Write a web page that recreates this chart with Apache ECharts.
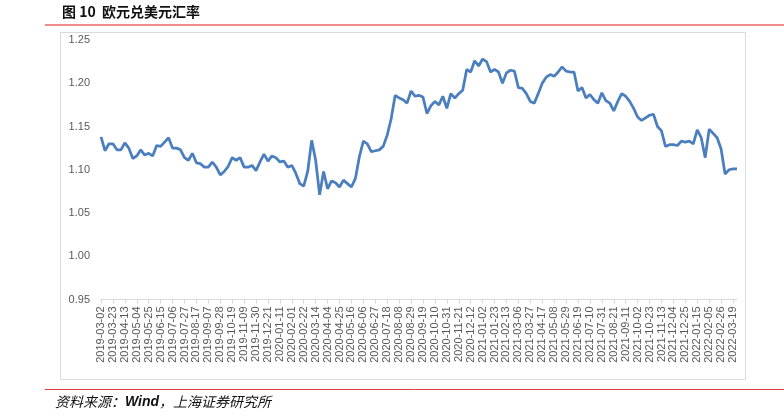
<!DOCTYPE html>
<html>
<head>
<meta charset="utf-8">
<script src="https://cdn.jsdelivr.net/npm/echarts@6/dist/echarts.min.js"></script>
<style>
html,body{margin:0;padding:0;background:#fff;}
#chart{width:784px;height:417px;}
</style>
</head>
<body>
<div id="chart"></div>
<script>
var titleText = '图 10  欧元兑美元汇率';
var sourceCn1 = '资料来源：';
var sourceWind = 'Wind';
var sourceCn2 = '，上海证券研究所';

var yTicks = [0.95, 1.00, 1.05, 1.10, 1.15, 1.20, 1.25];

var dates = [
'2019-03-02','2019-03-09','2019-03-16','2019-03-23','2019-03-30','2019-04-06','2019-04-13','2019-04-20','2019-04-27','2019-05-04',
'2019-05-11','2019-05-18','2019-05-25','2019-06-01','2019-06-08','2019-06-15','2019-06-22','2019-06-29','2019-07-06','2019-07-13',
'2019-07-20','2019-07-27','2019-08-03','2019-08-10','2019-08-17','2019-08-24','2019-08-31','2019-09-07','2019-09-14','2019-09-21',
'2019-09-28','2019-10-05','2019-10-12','2019-10-19','2019-10-26','2019-11-02','2019-11-09','2019-11-16','2019-11-23','2019-11-30',
'2019-12-07','2019-12-14','2019-12-21','2019-12-28',
'2020-01-04','2020-01-11','2020-01-18','2020-01-25','2020-02-01','2020-02-08','2020-02-15','2020-02-22','2020-02-29','2020-03-07',
'2020-03-14','2020-03-21','2020-03-28','2020-04-04','2020-04-11','2020-04-18','2020-04-25','2020-05-02','2020-05-09','2020-05-16',
'2020-05-23','2020-05-30','2020-06-06','2020-06-13','2020-06-20','2020-06-27','2020-07-04','2020-07-11','2020-07-18','2020-07-25',
'2020-08-01','2020-08-08','2020-08-15','2020-08-22','2020-08-29','2020-09-05','2020-09-12','2020-09-19','2020-09-26','2020-10-03',
'2020-10-10','2020-10-17','2020-10-24','2020-10-31','2020-11-07','2020-11-14','2020-11-21','2020-11-28','2020-12-05','2020-12-12',
'2020-12-19','2020-12-26',
'2021-01-02','2021-01-09','2021-01-16','2021-01-23','2021-01-30','2021-02-06','2021-02-13','2021-02-20','2021-02-27','2021-03-06',
'2021-03-13','2021-03-20','2021-03-27','2021-04-03','2021-04-10','2021-04-17','2021-04-24','2021-05-01','2021-05-08','2021-05-15',
'2021-05-22','2021-05-29','2021-06-05','2021-06-12','2021-06-19','2021-06-26','2021-07-03','2021-07-10','2021-07-17','2021-07-24',
'2021-07-31','2021-08-07','2021-08-14','2021-08-21','2021-08-28','2021-09-04','2021-09-11','2021-09-18','2021-09-25','2021-10-02',
'2021-10-09','2021-10-16','2021-10-23','2021-10-30','2021-11-06','2021-11-13','2021-11-20','2021-11-27','2021-12-04','2021-12-11',
'2021-12-18','2021-12-25',
'2022-01-01','2022-01-08','2022-01-15','2022-01-22','2022-01-29','2022-02-05','2022-02-12','2022-02-19','2022-02-26','2022-03-05',
'2022-03-12','2022-03-19','2022-03-26'
];

var eurusd = [
1.138,1.122,1.130,1.130,1.123,1.123,1.131,1.125,1.113,1.116,
1.123,1.117,1.119,1.116,1.128,1.127,1.132,1.137,1.125,1.125,
1.123,1.114,1.111,1.119,1.108,1.107,1.103,1.103,1.109,1.103,
1.094,1.098,1.104,1.114,1.111,1.114,1.103,1.103,1.105,1.099,
1.109,1.118,1.110,1.116,1.114,1.109,1.110,1.103,1.105,1.096,
1.084,1.081,1.098,1.134,1.111,1.071,1.098,1.078,1.087,1.085,
1.080,1.088,1.084,1.080,1.090,1.115,1.133,1.130,1.121,1.122,
1.123,1.127,1.140,1.159,1.186,1.183,1.181,1.177,1.191,1.185,
1.186,1.184,1.165,1.174,1.179,1.175,1.185,1.171,1.188,1.183,
1.188,1.192,1.216,1.213,1.226,1.220,1.228,1.225,1.213,1.216,
1.213,1.200,1.212,1.215,1.214,1.195,1.194,1.188,1.179,1.177,
1.188,1.200,1.207,1.210,1.208,1.213,1.219,1.214,1.213,1.213,
1.191,1.195,1.183,1.187,1.181,1.177,1.189,1.180,1.177,1.168,
1.179,1.188,1.185,1.179,1.171,1.161,1.157,1.160,1.163,1.164,
1.150,1.145,1.127,1.129,1.129,1.128,1.133,1.132,1.133,1.130,
1.146,1.137,1.114,1.147,1.142,1.137,1.124,1.095,1.100,1.101,
1.101
];

var chart = echarts.init(document.getElementById('chart'), null, {renderer: 'canvas'});
var cjk = '"Noto Sans CJK SC", "Liberation Sans", sans-serif';
var option = {
  animation: false,
  backgroundColor: '#ffffff',
  grid: {left: 101, right: 47, top: 40, bottom: 117.5, containLabel: false},
  xAxis: {
    type: 'category',
    data: dates,
    boundaryGap: false,
    axisLine: {show: true, lineStyle: {color: '#d9d9d9', width: 1}},
    axisTick: {show: true, interval: 2, length: 4, lineStyle: {color: '#d9d9d9'}},
    axisLabel: {interval: 2, rotate: 90, margin: 7, fontSize: 11, color: '#595959', fontFamily: '"Liberation Sans", Arial, sans-serif'},
    splitLine: {show: false}
  },
  yAxis: {
    type: 'value',
    min: yTicks[0],
    max: yTicks[yTicks.length - 1],
    interval: 0.05,
    axisLine: {show: false},
    axisTick: {show: false},
    splitLine: {show: false},
    axisLabel: {margin: 11, fontSize: 11, color: '#595959', fontFamily: '"Liberation Sans", Arial, sans-serif',
      formatter: function (v) { return v.toFixed(2); }}
  },
  series: [{
    type: 'line',
    data: eurusd,
    showSymbol: false,
    symbol: 'none',
    lineStyle: {color: '#4a7ebf', width: 2.75},
    itemStyle: {color: '#4a7ebf'}
  }],
  graphic: [
    {type: 'text', left: 62, top: 5, style: {text: titleText, font: 'bold 14px ' + cjk, fill: '#111111'}},
    {type: 'line', shape: {x1: 45, y1: 25, x2: 784, y2: 25}, style: {stroke: '#f08c8c', lineWidth: 2}},
    {type: 'rect', shape: {x: 60.5, y: 32.5, width: 685, height: 347}, style: {fill: 'none', stroke: '#d9d9d9', lineWidth: 1}, silent: true, z: -1},
    {type: 'line', shape: {x1: 45, y1: 389.5, x2: 784, y2: 389.5}, style: {stroke: '#e0403c', lineWidth: 1}},
    {type: 'text', left: 55, top: 395, style: {
      text: '{c|' + sourceCn1 + '}{w|' + sourceWind + '}{c|' + sourceCn2 + '}',
      rich: {
        c: {font: 'italic 14px ' + cjk, fill: '#111111'},
        w: {font: 'italic bold 14px "Liberation Sans", Arial, sans-serif', fill: '#111111'}
      }
    }}
  ]
};
chart.setOption(option);
</script>
</body>
</html>
